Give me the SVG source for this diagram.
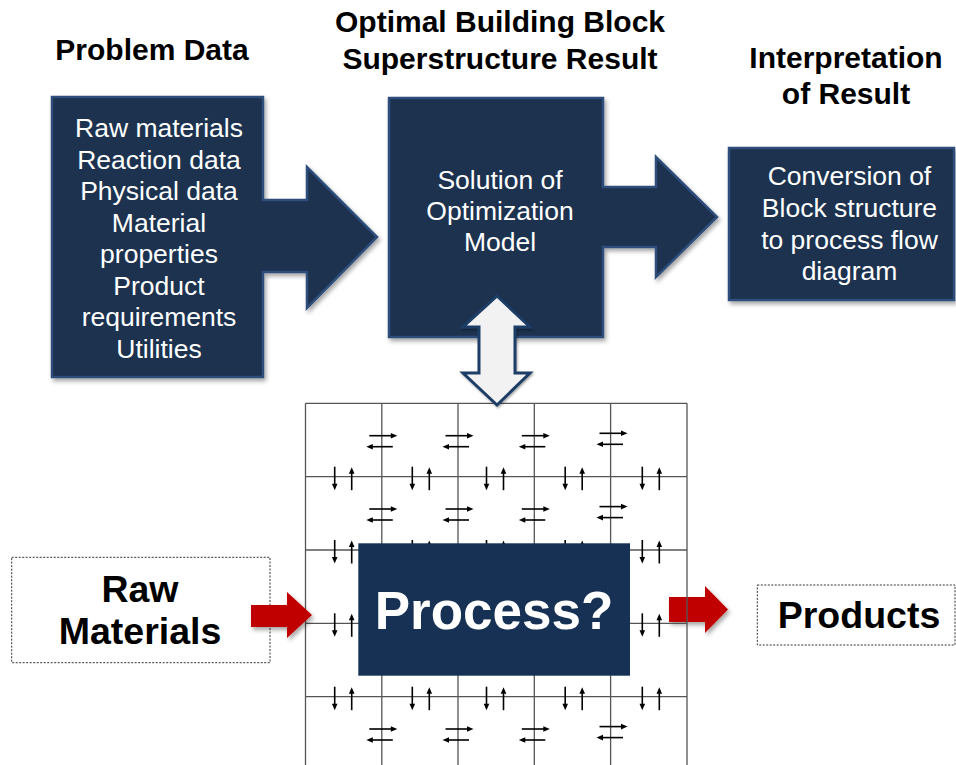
<svg xmlns="http://www.w3.org/2000/svg" xmlns:xlink="http://www.w3.org/1999/xlink" width="956" height="765" viewBox="0 0 956 765">
<style>
.hdr{font-family:"Liberation Sans",Arial,sans-serif;font-weight:bold;font-size:30px;fill:#000;text-anchor:middle}
.body{font-family:"Liberation Sans",Arial,sans-serif;font-size:26.5px;fill:#fff;text-anchor:middle}
.big{font-family:"Liberation Sans",Arial,sans-serif;font-weight:bold;font-size:37.5px;fill:#000;text-anchor:middle}
.navy{fill:#1E3050;stroke:#2D4E7A;stroke-width:2.5}
.grid{stroke:#555;stroke-width:1.3;fill:none}
.sa line{stroke:#000;stroke-width:1.6}
.sa path{fill:#000}
.dash{fill:#fff;stroke:#333;stroke-width:1;stroke-dasharray:2 1.5}
.red{fill:#C00000}
</style>
<defs>
<filter id="sh" x="-10%" y="-10%" width="130%" height="130%"><feDropShadow dx="2" dy="3" stdDeviation="2" flood-color="#000" flood-opacity="0.35"/></filter>
<filter id="sh2" x="-20%" y="-20%" width="150%" height="150%"><feDropShadow dx="1" dy="1.5" stdDeviation="1" flood-color="#000" flood-opacity="0.35"/></filter>
<g id="hp" class="sa"><line x1="-12.5" y1="0" x2="10" y2="0"/><path d="M9,-2.8 L15.5,0 L9,2.8Z"/><line x1="11" y1="11" x2="-10" y2="11"/><path d="M-9,8.2 L-15.5,11 L-9,13.8Z"/></g>
<g id="vp" class="sa"><line x1="-8.5" y1="-10" x2="-8.5" y2="8"/><path d="M-11.3,7 L-8.5,13.5 L-5.7,7Z"/><line x1="8.5" y1="13.5" x2="8.5" y2="-4"/><path d="M5.7,-3 L8.5,-9.5 L11.3,-3Z"/></g>
</defs>
<rect width="956" height="765" fill="#fff"/>

<g id="headers">
<text class="hdr" x="152" y="60">Problem Data</text>
<text class="hdr" x="500" y="32">Optimal Building Block</text>
<text class="hdr" x="500" y="69">Superstructure Result</text>
<text class="hdr" x="846" y="68">Interpretation</text>
<text class="hdr" x="846" y="104">of Result</text>
</g>

<g id="problem-data">
<path class="navy" filter="url(#sh)" d="M52,97 H263 V200 H307 V167 L377,237 L307,308 V272 H263 V377 H52 Z"/>
<text class="body" x="159" y="137">Raw materials</text>
<text class="body" x="159" y="168.5">Reaction data</text>
<text class="body" x="159" y="200">Physical data</text>
<text class="body" x="159" y="231.5">Material</text>
<text class="body" x="159" y="263">properties</text>
<text class="body" x="159" y="294.5">Product</text>
<text class="body" x="159" y="326">requirements</text>
<text class="body" x="159" y="358">Utilities</text>
</g>

<g id="optimization">
<path class="navy" filter="url(#sh)" d="M389,98 H603 V187 H656 V157 L717,217 L656,277 V247 H603 V337 H389 Z"/>
<text class="body" x="500" y="189">Solution of</text>
<text class="body" x="500" y="220">Optimization</text>
<text class="body" x="500" y="251">Model</text>
</g>

<g id="interpretation">
<rect class="navy" filter="url(#sh)" x="729" y="148" width="225" height="152"/>
<text class="body" x="849.5" y="185">Conversion of</text>
<text class="body" x="849.5" y="217">Block structure</text>
<text class="body" x="849.5" y="248.5">to process flow</text>
<text class="body" x="849.5" y="279.5">diagram</text>
</g>

<g id="connectors-under">
<path class="red" filter="url(#sh)" d="M669,597 H705 V586 L728,609.5 L705,633 V622 H669 Z"/>
</g>

<g id="superstructure-grid">
<path class="grid" d="M305.5,403.3 V765 M381.8,403.3 V765 M458,403.3 V765 M534.3,403.3 V765 M610.6,403.3 V765 M687,403.3 V765 M305.5,403.3 H687 M305.5,476.7 H687 M305.5,550 H687 M305.5,623.3 H687 M305.5,696.7 H687"/>
<use xlink:href="#hp" x="381.8" y="435.7"/><use xlink:href="#hp" x="458" y="435.7"/><use xlink:href="#hp" x="534.3" y="435.7"/><use xlink:href="#hp" x="612" y="433.3"/>
<use xlink:href="#hp" x="381.8" y="509"/><use xlink:href="#hp" x="458" y="509"/><use xlink:href="#hp" x="534.3" y="509"/><use xlink:href="#hp" x="612" y="506.6"/>
<use xlink:href="#hp" x="381.8" y="729"/><use xlink:href="#hp" x="458" y="729"/><use xlink:href="#hp" x="534.3" y="729"/><use xlink:href="#hp" x="612" y="726.6"/>
<use xlink:href="#vp" x="343.2" y="476.7"/><use xlink:href="#vp" x="420.8" y="476.7"/><use xlink:href="#vp" x="495" y="476.7"/><use xlink:href="#vp" x="573.7" y="476.7"/><use xlink:href="#vp" x="650.8" y="476.7"/>
<use xlink:href="#vp" x="343.2" y="550"/><use xlink:href="#vp" x="420.8" y="550"/><use xlink:href="#vp" x="495" y="550"/><use xlink:href="#vp" x="573.7" y="550"/><use xlink:href="#vp" x="650.8" y="550"/>
<use xlink:href="#vp" x="343.2" y="623.3"/><use xlink:href="#vp" x="650.8" y="623.3"/>
<use xlink:href="#vp" x="343.2" y="696.7"/><use xlink:href="#vp" x="420.8" y="696.7"/><use xlink:href="#vp" x="495" y="696.7"/><use xlink:href="#vp" x="573.7" y="696.7"/><use xlink:href="#vp" x="650.8" y="696.7"/>
</g>

<g id="process">
<rect x="358.3" y="543.3" width="271.7" height="132.4" fill="#163154"/>
<text x="494" y="629" font-family="'Liberation Sans',Arial,sans-serif" font-weight="bold" font-size="53" fill="#fff" text-anchor="middle">Process?</text>
</g>

<g id="raw-materials">
<rect class="dash" x="11.7" y="557.3" width="258.3" height="105.4"/>
<text class="big" x="140" y="601.5">Raw</text>
<text class="big" x="140" y="644">Materials</text>
</g>

<g id="products">
<rect class="dash" x="757.3" y="585" width="197.7" height="60"/>
<text class="big" x="859" y="628.3">Products</text>
</g>

<g id="connectors">
<path class="red" filter="url(#sh)" d="M251,605 H287 V592 L312,615 L287,638 V627 H251 Z"/>
<path filter="url(#sh2)" fill="#F2F2F2" stroke="#1F3E66" stroke-width="3" stroke-linejoin="miter" d="M497,296 L530,327 H515 V373 H530 L497,405 L463,373 H479 V327 H463 Z"/>
</g>
</svg>
